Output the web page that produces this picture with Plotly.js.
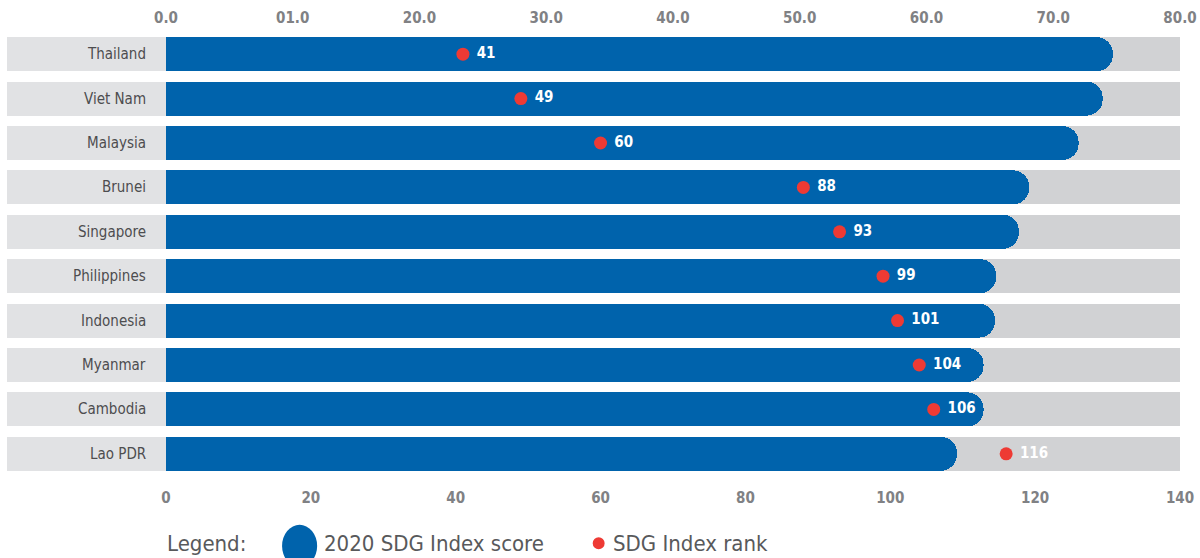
<!DOCTYPE html>
<html>
<head>
<meta charset="utf-8">
<script src="https://cdn.plot.ly/plotly-3.0.1.min.js"></script>
<style>
  html, body { margin: 0; padding: 0; background: #fff; }
  #chart { width: 1200px; height: 558px; }
</style>
</head>
<body>
<div id="chart"></div>
<script>
var countries = ['Thailand', 'Viet Nam', 'Malaysia', 'Brunei', 'Singapore',
  'Philippines', 'Indonesia', 'Myanmar', 'Cambodia', 'Lao PDR'];
var scores = [74.7, 73.9, 72.0, 68.1, 67.3, 65.5, 65.4, 64.5, 64.5, 62.4];
var ranks = [41, 49, 60, 88, 93, 99, 101, 104, 106, 116];

var scoreTicks = [0, 10, 20, 30, 40, 50, 60, 70, 80];
var scoreTickText = ['0.0', '01.0', '20.0', '30.0', '40.0', '50.0', '60.0', '70.0', '80.0'];
var rankTicks = [0, 20, 40, 60, 80, 100, 120, 140];

var scoreMax = 80;
var rankMax = 140;
// left part of the plot holds the country label boxes
var scoreMin = -12.54;
var rankMin = scoreMin * rankMax / scoreMax;

var condensed = '"DejaVu Sans Condensed", "Liberation Sans Narrow", sans-serif';

// each bar trace sits on its own (overlaid) y axis so stacking never mixes them
var track = {
  type: 'bar', orientation: 'h',
  y: countries,
  x: countries.map(function () { return scoreMax; }),
  yaxis: 'y',
  marker: {color: '#d1d2d4'},
  hoverinfo: 'skip', showlegend: false
};

var labelBox = {
  type: 'bar', orientation: 'h',
  y: countries,
  x: countries.map(function () { return scoreMin; }),
  yaxis: 'y2',
  marker: {color: '#e1e2e4'},
  hoverinfo: 'skip', showlegend: false
};

var scoreBars = {
  type: 'bar', orientation: 'h',
  y: countries, x: scores,
  yaxis: 'y3',
  name: '2020 SDG Index score',
  marker: {color: '#0063ac', cornerradius: 17},
  showlegend: false
};

var rankDots = {
  type: 'scatter', mode: 'markers+text',
  y: countries, x: ranks,
  xaxis: 'x2', yaxis: 'y4',
  name: 'SDG Index rank',
  text: ranks.map(function (r) { return '\u00a0' + r; }),
  textposition: 'middle right',
  textfont: {family: condensed, size: 15, color: '#ffffff', weight: 'bold'},
  marker: {color: '#ee3a34', size: 13},
  cliponaxis: false,
  showlegend: false
};

var annotations = countries.map(function (c) {
  return {
    xref: 'x', yref: 'y', x: 0, y: c, xshift: -18,
    xanchor: 'right', yanchor: 'middle', showarrow: false,
    text: c, font: {family: condensed, size: 15, color: '#4d4d4f'}
  };
});

// legend drawn by hand
var legendFont = {family: condensed, size: 22, color: '#58595b'};
annotations.push(
  {xref: 'paper', yref: 'paper', x: 0.1345, y: -0.152, xanchor: 'left', yanchor: 'middle',
   showarrow: false, text: 'Legend:', font: legendFont},
  {xref: 'paper', yref: 'paper', x: 0.2685, y: -0.152, xanchor: 'left', yanchor: 'middle',
   showarrow: false, text: '2020 SDG Index score', font: legendFont},
  {xref: 'paper', yref: 'paper', x: 0.5145, y: -0.152, xanchor: 'left', yanchor: 'middle',
   showarrow: false, text: 'SDG Index rank', font: legendFont}
);

var shapes = [
  {type: 'circle', xref: 'paper', yref: 'paper', x0: 0.2345, x1: 0.2644, y0: -0.205, y1: -0.11,
   fillcolor: '#0063ac', line: {width: 0}},
  {type: 'circle', xref: 'paper', yref: 'paper', x0: 0.4993, x1: 0.5095, y0: -0.165, y1: -0.138,
   fillcolor: '#ee3a34', line: {width: 0}}
];

function catAxis(extra) {
  var ax = {
    range: [countries.length - 0.5, -0.5], automargin: false, showticklabels: false,
    showgrid: false, zeroline: false, showline: false, ticks: ''
  };
  for (var k in extra) ax[k] = extra[k];
  return ax;
}

var layout = {
  width: 1200, height: 558,
  margin: {l: 7, r: 20, t: 32, b: 82},
  paper_bgcolor: '#ffffff', plot_bgcolor: '#ffffff',
  barmode: 'stack', bargap: 0.235,
  showlegend: false,
  xaxis: {
    side: 'top', range: [scoreMin, scoreMax], automargin: false,
    tickvals: scoreTicks, ticktext: scoreTickText, ticklabelstandoff: 5,
    showgrid: false, zeroline: false, showline: false, ticks: '',
    tickfont: {family: condensed, size: 15, color: '#808184', weight: 'bold'}
  },
  xaxis2: {
    overlaying: 'x', side: 'bottom', range: [rankMin, rankMax], automargin: false,
    tickvals: rankTicks, ticklabelstandoff: 11,
    showgrid: false, zeroline: false, showline: false, ticks: '',
    tickfont: {family: condensed, size: 15, color: '#808184', weight: 'bold'}
  },
  yaxis: catAxis({}),
  yaxis2: catAxis({overlaying: 'y'}),
  yaxis3: catAxis({overlaying: 'y'}),
  yaxis4: catAxis({overlaying: 'y'}),
  annotations: annotations,
  shapes: shapes
};

Plotly.newPlot('chart', [track, labelBox, scoreBars, rankDots], layout, {displayModeBar: false});
</script>
</body>
</html>
